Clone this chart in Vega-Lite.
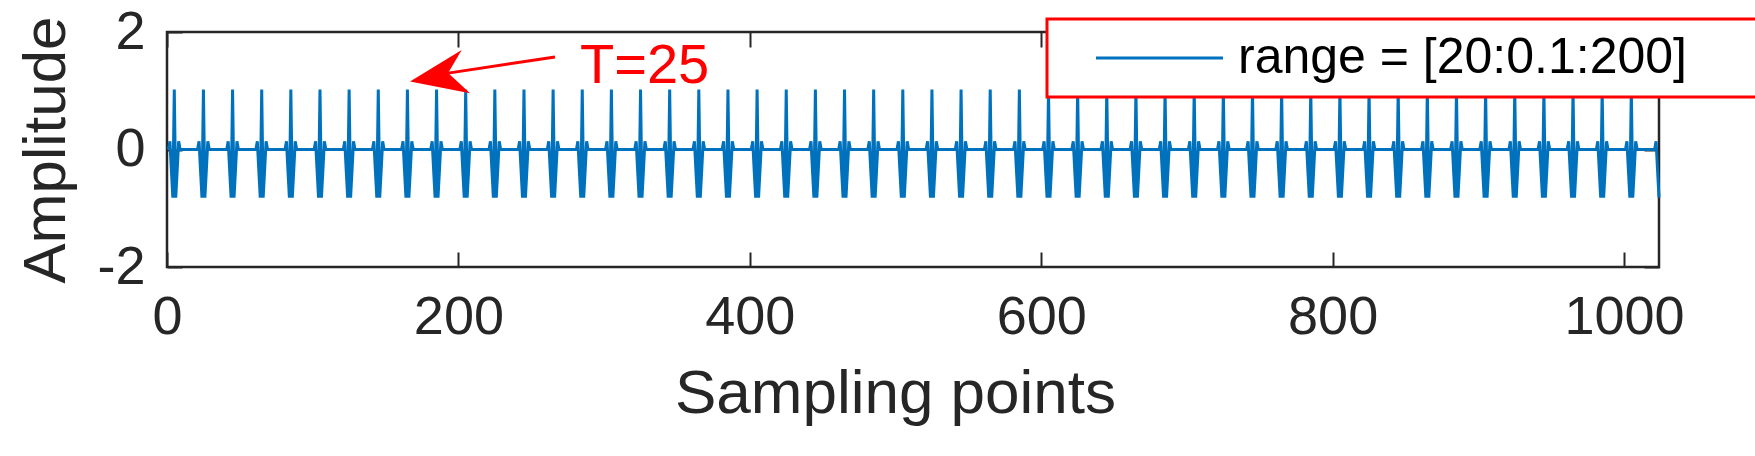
{
  "$schema": "https://vega.github.io/schema/vega-lite/v6.json",
  "autosize": {"type": "none"},
  "padding": {"left": 167, "top": 32, "right": 96, "bottom": 189},
  "width": 1492,
  "height": 235,
  "background": "#ffffff",
  "datasets": {
    "signal": [
      {"x":1,"y":0},{"x":2,"y":0.14},{"x":3,"y":-0.35},{"x":4,"y":-0.82},{"x":5,"y":1.02},{"x":6,"y":-0.82},{"x":7,"y":-0.35},{"x":8,"y":0.14},{"x":9,"y":0},
      {"x":21,"y":0},{"x":22,"y":0.14},{"x":23,"y":-0.35},{"x":24,"y":-0.82},{"x":25,"y":1.02},{"x":26,"y":-0.82},{"x":27,"y":-0.35},{"x":28,"y":0.14},{"x":29,"y":0},
      {"x":41,"y":0},{"x":42,"y":0.14},{"x":43,"y":-0.35},{"x":44,"y":-0.82},{"x":45,"y":1.02},{"x":46,"y":-0.82},{"x":47,"y":-0.35},{"x":48,"y":0.14},{"x":49,"y":0},
      {"x":61,"y":0},{"x":62,"y":0.14},{"x":63,"y":-0.35},{"x":64,"y":-0.82},{"x":65,"y":1.02},{"x":66,"y":-0.82},{"x":67,"y":-0.35},{"x":68,"y":0.14},{"x":69,"y":0},
      {"x":81,"y":0},{"x":82,"y":0.14},{"x":83,"y":-0.35},{"x":84,"y":-0.82},{"x":85,"y":1.02},{"x":86,"y":-0.82},{"x":87,"y":-0.35},{"x":88,"y":0.14},{"x":89,"y":0},
      {"x":101,"y":0},{"x":102,"y":0.14},{"x":103,"y":-0.35},{"x":104,"y":-0.82},{"x":105,"y":1.02},{"x":106,"y":-0.82},{"x":107,"y":-0.35},{"x":108,"y":0.14},{"x":109,"y":0},
      {"x":121,"y":0},{"x":122,"y":0.14},{"x":123,"y":-0.35},{"x":124,"y":-0.82},{"x":125,"y":1.02},{"x":126,"y":-0.82},{"x":127,"y":-0.35},{"x":128,"y":0.14},{"x":129,"y":0},
      {"x":141,"y":0},{"x":142,"y":0.14},{"x":143,"y":-0.35},{"x":144,"y":-0.82},{"x":145,"y":1.02},{"x":146,"y":-0.82},{"x":147,"y":-0.35},{"x":148,"y":0.14},{"x":149,"y":0},
      {"x":161,"y":0},{"x":162,"y":0.14},{"x":163,"y":-0.35},{"x":164,"y":-0.82},{"x":165,"y":1.02},{"x":166,"y":-0.82},{"x":167,"y":-0.35},{"x":168,"y":0.14},{"x":169,"y":0},
      {"x":181,"y":0},{"x":182,"y":0.14},{"x":183,"y":-0.35},{"x":184,"y":-0.82},{"x":185,"y":1.02},{"x":186,"y":-0.82},{"x":187,"y":-0.35},{"x":188,"y":0.14},{"x":189,"y":0},
      {"x":201,"y":0},{"x":202,"y":0.14},{"x":203,"y":-0.35},{"x":204,"y":-0.82},{"x":205,"y":1.02},{"x":206,"y":-0.82},{"x":207,"y":-0.35},{"x":208,"y":0.14},{"x":209,"y":0},
      {"x":221,"y":0},{"x":222,"y":0.14},{"x":223,"y":-0.35},{"x":224,"y":-0.82},{"x":225,"y":1.02},{"x":226,"y":-0.82},{"x":227,"y":-0.35},{"x":228,"y":0.14},{"x":229,"y":0},
      {"x":241,"y":0},{"x":242,"y":0.14},{"x":243,"y":-0.35},{"x":244,"y":-0.82},{"x":245,"y":1.02},{"x":246,"y":-0.82},{"x":247,"y":-0.35},{"x":248,"y":0.14},{"x":249,"y":0},
      {"x":261,"y":0},{"x":262,"y":0.14},{"x":263,"y":-0.35},{"x":264,"y":-0.82},{"x":265,"y":1.02},{"x":266,"y":-0.82},{"x":267,"y":-0.35},{"x":268,"y":0.14},{"x":269,"y":0},
      {"x":281,"y":0},{"x":282,"y":0.14},{"x":283,"y":-0.35},{"x":284,"y":-0.82},{"x":285,"y":1.02},{"x":286,"y":-0.82},{"x":287,"y":-0.35},{"x":288,"y":0.14},{"x":289,"y":0},
      {"x":301,"y":0},{"x":302,"y":0.14},{"x":303,"y":-0.35},{"x":304,"y":-0.82},{"x":305,"y":1.02},{"x":306,"y":-0.82},{"x":307,"y":-0.35},{"x":308,"y":0.14},{"x":309,"y":0},
      {"x":321,"y":0},{"x":322,"y":0.14},{"x":323,"y":-0.35},{"x":324,"y":-0.82},{"x":325,"y":1.02},{"x":326,"y":-0.82},{"x":327,"y":-0.35},{"x":328,"y":0.14},{"x":329,"y":0},
      {"x":341,"y":0},{"x":342,"y":0.14},{"x":343,"y":-0.35},{"x":344,"y":-0.82},{"x":345,"y":1.02},{"x":346,"y":-0.82},{"x":347,"y":-0.35},{"x":348,"y":0.14},{"x":349,"y":0},
      {"x":361,"y":0},{"x":362,"y":0.14},{"x":363,"y":-0.35},{"x":364,"y":-0.82},{"x":365,"y":1.02},{"x":366,"y":-0.82},{"x":367,"y":-0.35},{"x":368,"y":0.14},{"x":369,"y":0},
      {"x":381,"y":0},{"x":382,"y":0.14},{"x":383,"y":-0.35},{"x":384,"y":-0.82},{"x":385,"y":1.02},{"x":386,"y":-0.82},{"x":387,"y":-0.35},{"x":388,"y":0.14},{"x":389,"y":0},
      {"x":401,"y":0},{"x":402,"y":0.14},{"x":403,"y":-0.35},{"x":404,"y":-0.82},{"x":405,"y":1.02},{"x":406,"y":-0.82},{"x":407,"y":-0.35},{"x":408,"y":0.14},{"x":409,"y":0},
      {"x":421,"y":0},{"x":422,"y":0.14},{"x":423,"y":-0.35},{"x":424,"y":-0.82},{"x":425,"y":1.02},{"x":426,"y":-0.82},{"x":427,"y":-0.35},{"x":428,"y":0.14},{"x":429,"y":0},
      {"x":441,"y":0},{"x":442,"y":0.14},{"x":443,"y":-0.35},{"x":444,"y":-0.82},{"x":445,"y":1.02},{"x":446,"y":-0.82},{"x":447,"y":-0.35},{"x":448,"y":0.14},{"x":449,"y":0},
      {"x":461,"y":0},{"x":462,"y":0.14},{"x":463,"y":-0.35},{"x":464,"y":-0.82},{"x":465,"y":1.02},{"x":466,"y":-0.82},{"x":467,"y":-0.35},{"x":468,"y":0.14},{"x":469,"y":0},
      {"x":481,"y":0},{"x":482,"y":0.14},{"x":483,"y":-0.35},{"x":484,"y":-0.82},{"x":485,"y":1.02},{"x":486,"y":-0.82},{"x":487,"y":-0.35},{"x":488,"y":0.14},{"x":489,"y":0},
      {"x":501,"y":0},{"x":502,"y":0.14},{"x":503,"y":-0.35},{"x":504,"y":-0.82},{"x":505,"y":1.02},{"x":506,"y":-0.82},{"x":507,"y":-0.35},{"x":508,"y":0.14},{"x":509,"y":0},
      {"x":521,"y":0},{"x":522,"y":0.14},{"x":523,"y":-0.35},{"x":524,"y":-0.82},{"x":525,"y":1.02},{"x":526,"y":-0.82},{"x":527,"y":-0.35},{"x":528,"y":0.14},{"x":529,"y":0},
      {"x":541,"y":0},{"x":542,"y":0.14},{"x":543,"y":-0.35},{"x":544,"y":-0.82},{"x":545,"y":1.02},{"x":546,"y":-0.82},{"x":547,"y":-0.35},{"x":548,"y":0.14},{"x":549,"y":0},
      {"x":561,"y":0},{"x":562,"y":0.14},{"x":563,"y":-0.35},{"x":564,"y":-0.82},{"x":565,"y":1.02},{"x":566,"y":-0.82},{"x":567,"y":-0.35},{"x":568,"y":0.14},{"x":569,"y":0},
      {"x":581,"y":0},{"x":582,"y":0.14},{"x":583,"y":-0.35},{"x":584,"y":-0.82},{"x":585,"y":1.02},{"x":586,"y":-0.82},{"x":587,"y":-0.35},{"x":588,"y":0.14},{"x":589,"y":0},
      {"x":601,"y":0},{"x":602,"y":0.14},{"x":603,"y":-0.35},{"x":604,"y":-0.82},{"x":605,"y":1.02},{"x":606,"y":-0.82},{"x":607,"y":-0.35},{"x":608,"y":0.14},{"x":609,"y":0},
      {"x":621,"y":0},{"x":622,"y":0.14},{"x":623,"y":-0.35},{"x":624,"y":-0.82},{"x":625,"y":1.02},{"x":626,"y":-0.82},{"x":627,"y":-0.35},{"x":628,"y":0.14},{"x":629,"y":0},
      {"x":641,"y":0},{"x":642,"y":0.14},{"x":643,"y":-0.35},{"x":644,"y":-0.82},{"x":645,"y":1.02},{"x":646,"y":-0.82},{"x":647,"y":-0.35},{"x":648,"y":0.14},{"x":649,"y":0},
      {"x":661,"y":0},{"x":662,"y":0.14},{"x":663,"y":-0.35},{"x":664,"y":-0.82},{"x":665,"y":1.02},{"x":666,"y":-0.82},{"x":667,"y":-0.35},{"x":668,"y":0.14},{"x":669,"y":0},
      {"x":681,"y":0},{"x":682,"y":0.14},{"x":683,"y":-0.35},{"x":684,"y":-0.82},{"x":685,"y":1.02},{"x":686,"y":-0.82},{"x":687,"y":-0.35},{"x":688,"y":0.14},{"x":689,"y":0},
      {"x":701,"y":0},{"x":702,"y":0.14},{"x":703,"y":-0.35},{"x":704,"y":-0.82},{"x":705,"y":1.02},{"x":706,"y":-0.82},{"x":707,"y":-0.35},{"x":708,"y":0.14},{"x":709,"y":0},
      {"x":721,"y":0},{"x":722,"y":0.14},{"x":723,"y":-0.35},{"x":724,"y":-0.82},{"x":725,"y":1.02},{"x":726,"y":-0.82},{"x":727,"y":-0.35},{"x":728,"y":0.14},{"x":729,"y":0},
      {"x":741,"y":0},{"x":742,"y":0.14},{"x":743,"y":-0.35},{"x":744,"y":-0.82},{"x":745,"y":1.02},{"x":746,"y":-0.82},{"x":747,"y":-0.35},{"x":748,"y":0.14},{"x":749,"y":0},
      {"x":761,"y":0},{"x":762,"y":0.14},{"x":763,"y":-0.35},{"x":764,"y":-0.82},{"x":765,"y":1.02},{"x":766,"y":-0.82},{"x":767,"y":-0.35},{"x":768,"y":0.14},{"x":769,"y":0},
      {"x":781,"y":0},{"x":782,"y":0.14},{"x":783,"y":-0.35},{"x":784,"y":-0.82},{"x":785,"y":1.02},{"x":786,"y":-0.82},{"x":787,"y":-0.35},{"x":788,"y":0.14},{"x":789,"y":0},
      {"x":801,"y":0},{"x":802,"y":0.14},{"x":803,"y":-0.35},{"x":804,"y":-0.82},{"x":805,"y":1.02},{"x":806,"y":-0.82},{"x":807,"y":-0.35},{"x":808,"y":0.14},{"x":809,"y":0},
      {"x":821,"y":0},{"x":822,"y":0.14},{"x":823,"y":-0.35},{"x":824,"y":-0.82},{"x":825,"y":1.02},{"x":826,"y":-0.82},{"x":827,"y":-0.35},{"x":828,"y":0.14},{"x":829,"y":0},
      {"x":841,"y":0},{"x":842,"y":0.14},{"x":843,"y":-0.35},{"x":844,"y":-0.82},{"x":845,"y":1.02},{"x":846,"y":-0.82},{"x":847,"y":-0.35},{"x":848,"y":0.14},{"x":849,"y":0},
      {"x":861,"y":0},{"x":862,"y":0.14},{"x":863,"y":-0.35},{"x":864,"y":-0.82},{"x":865,"y":1.02},{"x":866,"y":-0.82},{"x":867,"y":-0.35},{"x":868,"y":0.14},{"x":869,"y":0},
      {"x":881,"y":0},{"x":882,"y":0.14},{"x":883,"y":-0.35},{"x":884,"y":-0.82},{"x":885,"y":1.02},{"x":886,"y":-0.82},{"x":887,"y":-0.35},{"x":888,"y":0.14},{"x":889,"y":0},
      {"x":901,"y":0},{"x":902,"y":0.14},{"x":903,"y":-0.35},{"x":904,"y":-0.82},{"x":905,"y":1.02},{"x":906,"y":-0.82},{"x":907,"y":-0.35},{"x":908,"y":0.14},{"x":909,"y":0},
      {"x":921,"y":0},{"x":922,"y":0.14},{"x":923,"y":-0.35},{"x":924,"y":-0.82},{"x":925,"y":1.02},{"x":926,"y":-0.82},{"x":927,"y":-0.35},{"x":928,"y":0.14},{"x":929,"y":0},
      {"x":941,"y":0},{"x":942,"y":0.14},{"x":943,"y":-0.35},{"x":944,"y":-0.82},{"x":945,"y":1.02},{"x":946,"y":-0.82},{"x":947,"y":-0.35},{"x":948,"y":0.14},{"x":949,"y":0},
      {"x":961,"y":0},{"x":962,"y":0.14},{"x":963,"y":-0.35},{"x":964,"y":-0.82},{"x":965,"y":1.02},{"x":966,"y":-0.82},{"x":967,"y":-0.35},{"x":968,"y":0.14},{"x":969,"y":0},
      {"x":981,"y":0},{"x":982,"y":0.14},{"x":983,"y":-0.35},{"x":984,"y":-0.82},{"x":985,"y":1.02},{"x":986,"y":-0.82},{"x":987,"y":-0.35},{"x":988,"y":0.14},{"x":989,"y":0},
      {"x":1001,"y":0},{"x":1002,"y":0.14},{"x":1003,"y":-0.35},{"x":1004,"y":-0.82},{"x":1005,"y":1.02},{"x":1006,"y":-0.82},{"x":1007,"y":-0.35},{"x":1008,"y":0.14},{"x":1009,"y":0},
      {"x":1021,"y":0},{"x":1022,"y":0.14},{"x":1023,"y":-0.35},{"x":1024,"y":-0.82}
    ],
    "notes": [
      {"part": "shaft", "x": 266.3, "y": 1.574, "x2": 192.9, "y2": 1.30},
      {"part": "head", "x": 187.4, "y": 1.319},
      {"part": "label", "x": 283.5, "y": 1.132, "text": "T=25"}
    ]
  },
  "layer": [
    {
      "data": {"name": "signal"},
      "mark": {"type": "line", "strokeWidth": 3, "strokeJoin": "miter", "strokeMiterLimit": 2},
      "encoding": {
        "x": {
          "field": "x", "type": "quantitative",
          "scale": {"domain": [0, 1024], "nice": false, "zero": false},
          "axis": {"orient": "bottom", "title": "Sampling points", "values": [0, 200, 400, 600, 800, 1000], "labelExpr": "'' + datum.value", "labelPadding": 38, "titlePadding": 19, "titleFontSize": 62, "titleX": 728}
        },
        "y": {
          "field": "y", "type": "quantitative",
          "scale": {"domain": [-2, 2], "nice": false, "zero": false},
          "axis": {"orient": "left", "title": "Amplitude", "values": [-2, 0, 2], "labelExpr": "'' + datum.value", "labelPadding": 37, "titlePadding": 19}
        },
        "color": {
          "datum": "range = [20:0.1:200]", "type": "nominal",
          "scale": {"range": ["#0072BD"]},
          "legend": {
            "title": null,
            "orient": "none",
            "legendX": 880,
            "legendY": -13,
            "padding": 14,
            "fillColor": "#ffffff",
            "strokeColor": "#FF0000",
            "symbolType": "M -5 0 L 5 0 M 45.5 0",
            "symbolSize": 645,
            "symbolStrokeWidth": 3,
            "symbolOffset": 73.5,
            "labelOffset": 53.5,
            "labelFontSize": 50,
            "labelFont": "Liberation Sans, Arial, sans-serif",
            "labelColor": "#000000",
            "labelLimit": 0,
            "encode": {"legend": {"update": {"strokeWidth": {"value": 3}}}}
          }
        }
      }
    },
    {
      "data": {"name": "notes"},
      "transform": [{"filter": "datum.part === 'shaft'"}],
      "mark": {"type": "rule", "color": "#FF0000", "strokeWidth": 3},
      "encoding": {
        "x": {"field": "x", "type": "quantitative", "axis": null},
        "x2": {"field": "x2"},
        "y": {"field": "y", "type": "quantitative", "axis": null},
        "y2": {"field": "y2"}
      }
    },
    {
      "data": {"name": "notes"},
      "transform": [{"filter": "datum.part === 'head'"}],
      "mark": {"type": "point", "shape": "M -1 0.32 L 0.72 -0.73 L 0.27 0.03 L 1 0.71 Z", "size": 3600, "filled": true, "color": "#FF0000", "opacity": 1, "strokeWidth": 0},
      "encoding": {
        "x": {"field": "x", "type": "quantitative", "axis": {"orient": "top", "labels": false, "title": null, "values": [0, 200, 400, 600, 800, 1000]}},
        "y": {"field": "y", "type": "quantitative", "axis": {"orient": "right", "labels": false, "title": null, "values": [-2, 0, 2]}}
      }
    },
    {
      "data": {"name": "notes"},
      "transform": [{"filter": "datum.part === 'label'"}],
      "mark": {"type": "text", "align": "left", "baseline": "alphabetic", "fontSize": 56, "color": "#FF0000", "font": "Liberation Sans, Arial, sans-serif"},
      "encoding": {
        "x": {"field": "x", "type": "quantitative", "axis": null},
        "y": {"field": "y", "type": "quantitative", "axis": null},
        "text": {"field": "text"}
      }
    }
  ],
  "config": {
    "view": {"stroke": "#262626", "strokeWidth": 2.5},
    "axis": {
      "grid": false,
      "domain": false,
      "ticks": true,
      "tickSize": -15,
      "tickWidth": 2,
      "tickColor": "#262626",
      "labelFont": "Liberation Sans, Arial, sans-serif",
      "titleFont": "Liberation Sans, Arial, sans-serif",
      "labelFontSize": 54,
      "titleFontSize": 60,
      "titleFontWeight": "normal",
      "labelColor": "#262626",
      "titleColor": "#262626",
      "labelFlush": false,
      "labelOverlap": false,
      "labelBound": false
    }
  }
}
